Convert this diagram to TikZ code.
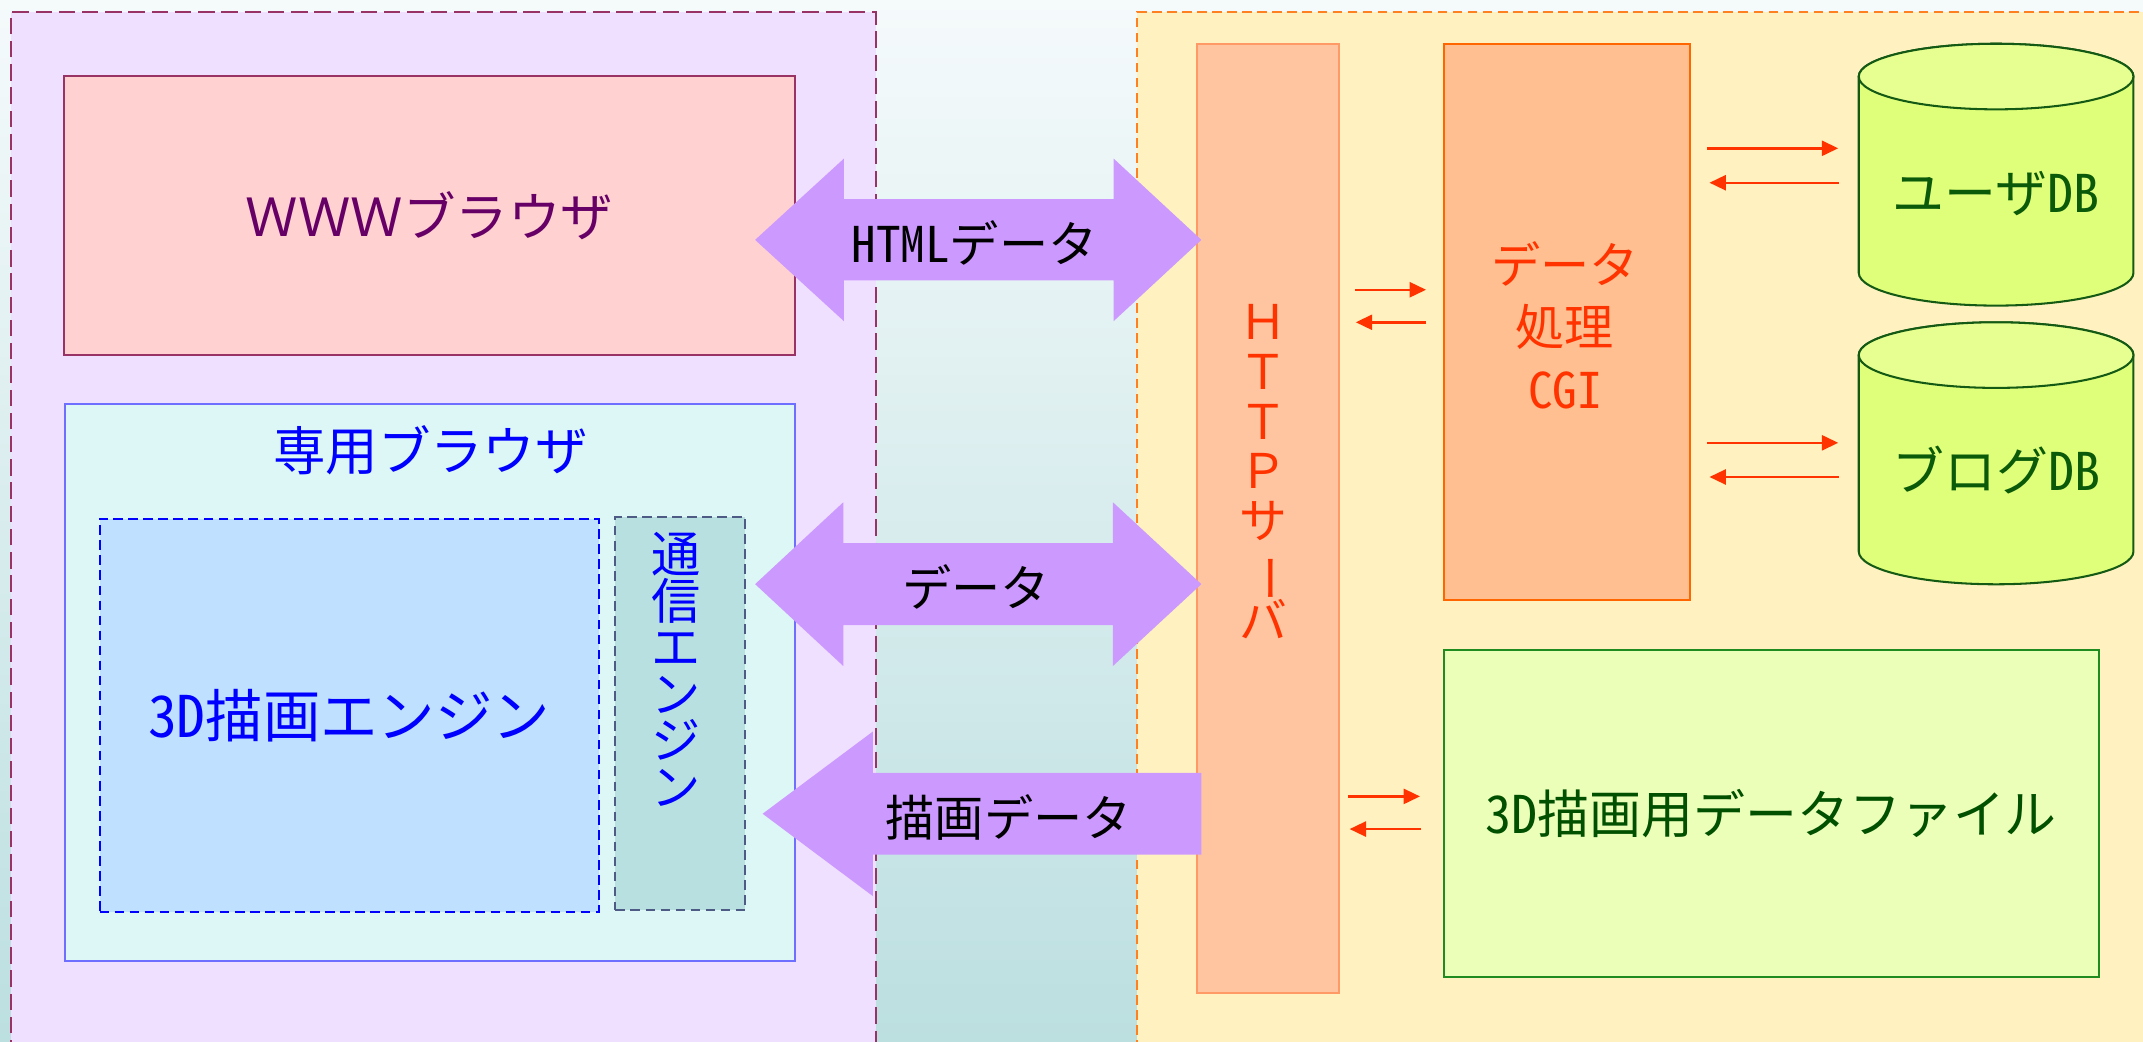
\documentclass[tikz,border=0pt]{standalone}
\usepackage{fontspec}
\setmainfont{Noto Sans CJK JP}
\newfontfamily\hw[RawFeature=+hwid]{Noto Sans CJK JP}
\usetikzlibrary{arrows.meta}
\definecolor{bgtop}{HTML}{F5FAFB}
\definecolor{bgbot}{HTML}{BCDFE0}
\definecolor{leftfill}{HTML}{F0E0FF}
\definecolor{leftdraw}{HTML}{993366}
\definecolor{rightfill}{HTML}{FFF2C0}
\definecolor{rightdraw}{HTML}{FF8020}
\definecolor{wwwfill}{HTML}{FFD1D1}
\definecolor{wwwdraw}{HTML}{993366}
\definecolor{wwwtext}{HTML}{660066}
\definecolor{senfill}{HTML}{DDF7F7}
\definecolor{sendraw}{HTML}{6F6FFF}
\definecolor{bluetext}{HTML}{0000FF}
\definecolor{engfill}{HTML}{C0E0FF}
\definecolor{engdraw}{HTML}{0000FF}
\definecolor{commfill}{HTML}{B8E0E0}
\definecolor{commdraw}{HTML}{4D5B85}
\definecolor{purplearr}{HTML}{CC99FF}
\definecolor{httpfill}{HTML}{FFC5A0}
\definecolor{httpdraw}{HTML}{FF9966}
\definecolor{redtext}{HTML}{FF3300}
\definecolor{cgifill}{HTML}{FFBF90}
\definecolor{cgidraw}{HTML}{FF6600}
\definecolor{cylbody}{HTML}{DFFF7A}
\definecolor{cyltop}{HTML}{E6FF90}
\definecolor{cyldraw}{HTML}{145A14}
\definecolor{dbtext}{HTML}{0A5A0A}
\definecolor{filefill}{HTML}{ECFFB9}
\definecolor{filedraw}{HTML}{1E8C1E}
\definecolor{filetext}{HTML}{005000}
\definecolor{arrowred}{HTML}{FF3300}
\newcommand\tightlines{\lineskiplimit=-50pt\relax}
\newcommand\mycyl[3]{%
  \path[fill=cylbody,draw=cyldraw,line width=0.75pt]
    (#1-100.5,#2) -- (#1-100.5,#3)
    arc[start angle=180,end angle=0,x radius=100.5,y radius=24]
    -- (#1+100.5,#2)
    arc[start angle=0,end angle=-180,x radius=100.5,y radius=24] -- cycle;
  \path[fill=cyltop,draw=cyldraw,line width=0.75pt]
    (#1,#2) ellipse[x radius=100.5,y radius=24];
}
\begin{document}
\begin{tikzpicture}[x=0.5pt,y=-0.5pt,
  every node/.style={inner sep=0pt,outer sep=0pt},
  jp/.style={font=\fontsize{19.2}{22}\selectfont},
  ajp/.style={font=\fontsize{18}{22}\selectfont},
  rbox/.style={draw,line width=0.75pt},
  dbox/.style={draw,line width=0.7pt,dash pattern=on 3.5pt off 2pt},
  sarr/.style={draw=arrowred,line width=0.9pt,-{Triangle[length=6pt,width=5.5pt]}},
  bigarrow/.style={fill=purplearr}]
\clip (0,0) rectangle (1568,762);
\shade[top color=bgtop,bottom color=bgbot] (0,0) rectangle (1568,762);
% panels
\fill[leftfill] (8,9) rectangle (641,790);
\draw[leftdraw,line width=0.6pt,dash pattern=on 6pt off 2.5pt] (8,790) -- (8,9) -- (641,9) -- (641,790);
\fill[rightfill] (832,9) rectangle (1600,790);
\draw[rightdraw,line width=0.6pt,dash pattern=on 3.5pt off 2pt] (832,790) -- (832,9) -- (1600,9);
% left side
\node[rbox,draw=wwwdraw,fill=wwwfill,text=wwwtext,minimum width=267.15pt,minimum height=102.2pt,jp] (www) at (314.2,157.8) {ＷＷＷブラウザ};
\node[rbox,draw=sendraw,fill=senfill,minimum width=266.9pt,minimum height=203.5pt] (sen) at (314.7,499.3) {};
\node[jp,text=bluetext] (senlbl) at (315,329.3) {専用ブラウザ};
\node[dbox,draw=engdraw,fill=engfill,minimum width=182.55pt,minimum height=143.9pt,font=\fontsize{21}{24}\selectfont,text=bluetext] (eng) at (255.45,523.3) {{\hw 3D}描画エンジン};
\node[dbox,draw=commdraw,fill=commfill,minimum width=47.55pt,minimum height=143.7pt] (comm) at (497.85,522.1) {};
\node[align=center,font=\fontsize{18}{17}\selectfont\tightlines,text=bluetext] (commlbl) at (494.7,489.8) {通\\信\\エ\\ン\\ジ\\ン};
% right side
\node[rbox,draw=httpdraw,fill=httpfill,minimum width=52pt,minimum height=347.15pt] (http) at (927.5,379.55) {};
\node[align=center,font=\fontsize{17.5}{18.2}\selectfont\tightlines,text=redtext] (httplbl) at (924.3,345) {Ｈ\\Ｔ\\Ｔ\\Ｐ\\サ\\\rotatebox[origin=c]{-90}{ー}\\バ};
\node[rbox,draw=cgidraw,fill=cgifill,minimum width=89.8pt,minimum height=203.3pt] (cgi) at (1146.4,235.7) {};
\node[align=center,font=\fontsize{18}{22.75}\selectfont\tightlines,text=redtext] (cgilbl) at (1145,238) {データ\\処理\\{\hw CGI}};
\node[rbox,draw=filedraw,fill=filefill,minimum width=239.8pt,minimum height=119.65pt,font=\fontsize{19}{22}\selectfont,text=filetext] (file) at (1296,595.25) {{\hw 3D}描画用データファイル};
\mycyl{1460.5}{56}{199.6}
\mycyl{1460.5}{259.8}{403.5}
\node[font=\fontsize{19}{22}\selectfont,text=dbtext,minimum width=100.5pt] (userdb) at (1460.5,141.7) {ユーザ{\hw DB}};
\node[font=\fontsize{19}{22}\selectfont,text=dbtext,minimum width=100.5pt] (blogdb) at (1460.5,344) {ブログ{\hw DB}};
% small arrows
\draw[sarr,shorten <=6pt,shorten >=6.6pt] (http.east |- 0,212) -- (cgi.west |- 0,212);
\draw[sarr,shorten <=6.6pt,shorten >=6.25pt] (cgi.west |- 0,235.8) -- (http.east |- 0,235.8);
\draw[sarr,shorten <=6.4pt,shorten >=7.5pt] (cgi.east |- 0,108.5) -- (userdb.west |- 0,108.5);
\draw[sarr,shorten <=7.3pt,shorten >=7.3pt] (userdb.west |- 0,133.7) -- (cgi.east |- 0,133.7);
\draw[sarr,shorten <=6.4pt,shorten >=7.5pt] (cgi.east |- 0,324) -- (blogdb.west |- 0,324);
\draw[sarr,shorten <=7.3pt,shorten >=7.3pt] (blogdb.west |- 0,349) -- (cgi.east |- 0,349);
\draw[sarr,shorten <=3.5pt,shorten >=8.6pt] (http.east |- 0,582.7) -- (file.west |- 0,582.7);
\draw[sarr,shorten <=8.1pt,shorten >=4pt] (file.west |- 0,606.6) -- (http.east |- 0,606.6);
% big purple arrows
\fill[bigarrow] (552.5,175.5) -- (617.5,116) -- (617.5,145.6) -- (814.8,145.6) -- (814.8,116) -- (879,175.5)
  -- (814.8,235) -- (814.8,205.2) -- (617.5,205.2) -- (617.5,235) -- cycle;
\fill[bigarrow] (552.5,427.4) -- (617,367.5) -- (617,397.3) -- (814.3,397.3) -- (814.3,367.5) -- (879,427.4)
  -- (814.3,487.3) -- (814.3,457.3) -- (617,457.3) -- (617,487.3) -- cycle;
\fill[bigarrow] (558,595.4) -- (638.7,535.2) -- (638.7,565.4) -- (879,565.4) -- (879,625.3) -- (638.7,625.3) -- (638.7,655.7) -- cycle;
\node[ajp] (htmllbl) at (713,178) {{\hw HTML}データ};
\node[ajp] (datalbl) at (714,429.7) {データ};
\node[ajp] (drawlbl) at (738,598.5) {描画データ};
\end{tikzpicture}
\end{document}
